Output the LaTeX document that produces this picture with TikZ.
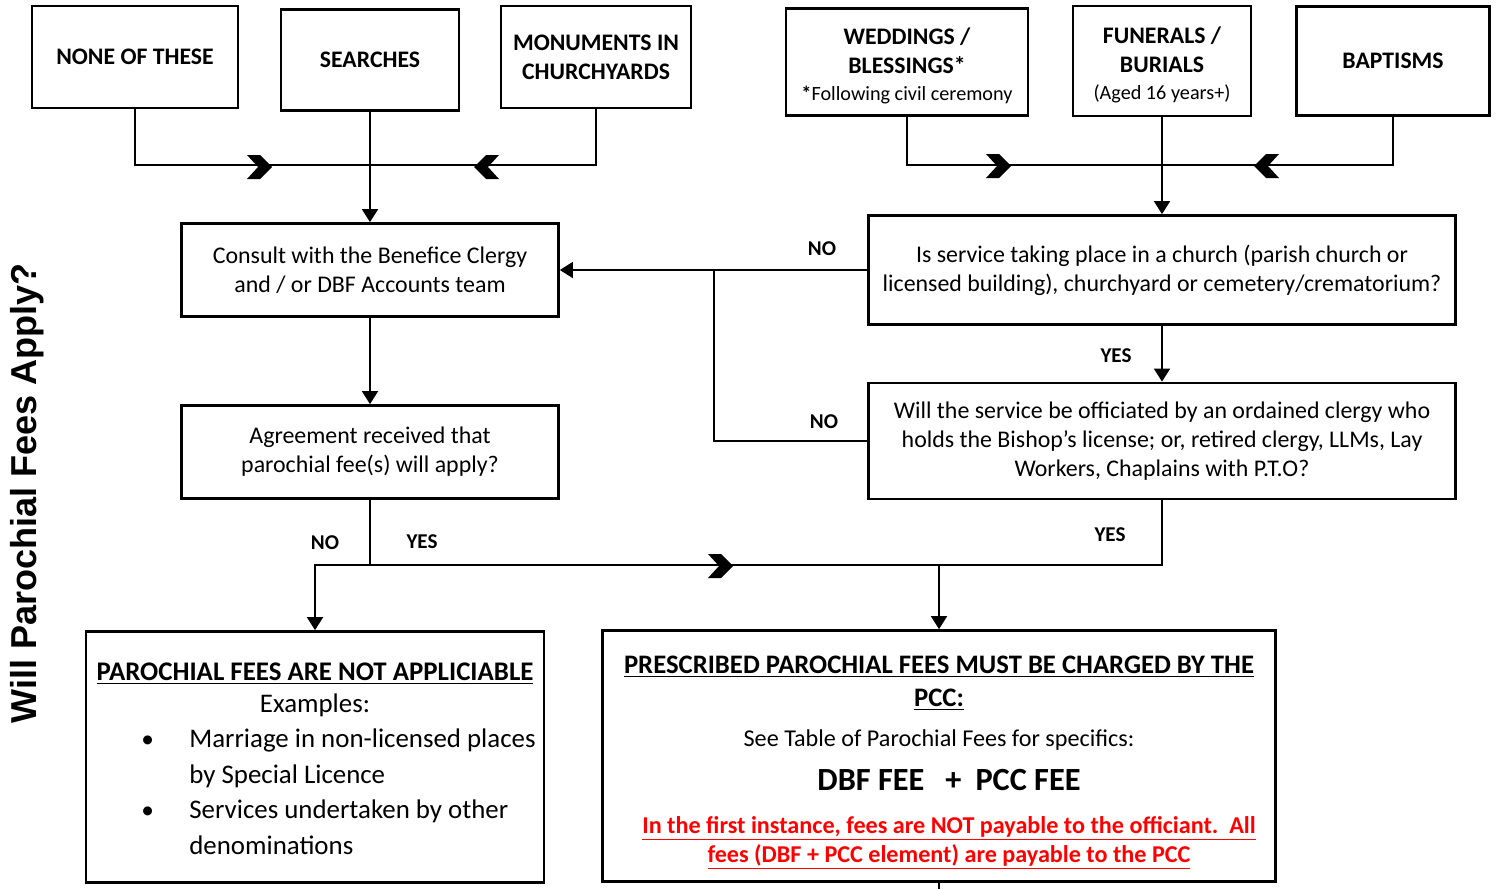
\documentclass[tikz,border=0pt]{standalone}
\usepackage{fontspec}
\setmainfont{Carlito}
\newfontfamily\titlefont{Liberation Sans}
\usetikzlibrary{arrows.meta}

\tikzset{
  box/.style={draw,inner sep=2pt,align=center,font=\fontsize{13.6}{16.4}\selectfont},
  topbox/.style={box,font=\fontsize{13.5}{16.4}\selectfont\bfseries},
  bigbox/.style={draw,inner sep=2pt,align=center,minimum height=5.02cm,font=\fontsize{15.2}{18.7}\selectfont},
  lbl/.style={font=\fontsize{12}{14}\selectfont\bfseries},
  arr/.style={-{Triangle[length=7.5pt,width=9pt]}},
  chevr/.pic={\fill (-12,-12) -- (1,-12) -- (13,0) -- (1,12) -- (-12,12) -- (-1,0) -- cycle;}
}

\begin{document}
\begin{tikzpicture}[x=0.02cm,y=-0.02cm,line width=1.5pt]
\useasboundingbox (0,0) rectangle (1503,889);
\node[rotate=90,font=\titlefont\bfseries\fontsize{20.5}{24}\selectfont] (title) at (27,493) {Will Parochial Fees Apply?};

\node[topbox,minimum width=4.12cm,minimum height=2.04cm] (none) at (135,57) {NONE OF THESE};
\node[topbox,minimum width=3.56cm,minimum height=2.02cm] (searches) at (370,60) {SEARCHES};
\node[topbox,minimum width=3.8cm,minimum height=2.04cm] (monu) at (596,57) {MONUMENTS IN\\CHURCHYARDS};
\node[topbox,minimum width=4.84cm,minimum height=2.14cm] (wed) at (907,62) {\rule{0pt}{14pt}WEDDINGS /\\BLESSINGS*\\[-1pt]{\fontsize{11.5}{14.5}\selectfont *\mdseries Following civil ceremony}};
\node[topbox,minimum width=3.56cm,minimum height=2.2cm] (funerals) at (1162,61) {\rule{0pt}{14pt}FUNERALS /\\BURIALS\\[-1pt]{\fontsize{11.5}{14.5}\selectfont\mdseries (Aged 16 years+)}};
\node[topbox,minimum width=3.86cm,minimum height=2.18cm] (bapt) at (1393,61) {BAPTISMS};

\node[box,minimum width=7.54cm,minimum height=1.86cm] (consult) at (370,270) {Consult with the Benefice Clergy\\and / or DBF Accounts team};
\node[box,minimum width=7.54cm,minimum height=1.86cm] (agree) at (370,452) {Agreement received that\\parochial fee(s) will apply?};
\node[box,minimum width=11.74cm,minimum height=2.18cm] (church) at (1162,270) {Is service taking place in a church (parish church or\\licensed building), churchyard or cemetery/crematorium?};
\node[box,minimum width=11.74cm,minimum height=2.32cm] (offic) at (1162,441) {Will the service be officiated by an ordained clergy who\\holds the Bishop’s license; or, retired clergy, LLMs, Lay\\Workers, Chaplains with P.T.O?};

\node[bigbox,minimum width=9.16cm,font=\fontsize{15.3}{20.2}\selectfont] (notapp) at (315,757) {\rule{0pt}{18pt}{\bfseries\underline{PAROCHIAL FEES ARE NOT APPLICIABLE}}\\[-2pt]Examples:\\\hspace*{0.94cm}\begin{tabular}[t]{@{}p{0.96cm}@{}l@{}}{\Large\textbullet}&Marriage in non-licensed places\\&by Special Licence\\{\Large\textbullet}&Services undertaken by other\\&denominations\end{tabular}};
\node[bigbox,minimum width=13.46cm] (presc) at (939,756) {\rule{0pt}{18pt}{\bfseries\underline{PRESCRIBED PAROCHIAL FEES MUST BE CHARGED BY THE}}\\{\bfseries\underline{PCC:}}\\[4pt]{\fontsize{13.75}{16}\selectfont See Table of Parochial Fees for specifics:}\\[6pt]\hspace*{0.4cm}{\fontsize{18.4}{22}\selectfont\bfseries DBF FEE\hspace{0.42cm}+\hspace{0.28cm}PCC FEE}\\[6pt]\hspace*{0.4cm}{\color{red}\fontsize{13.75}{16}\selectfont\bfseries\underline{In the first instance, fees are NOT payable to the officiant.\ \ All}}\\[-2.3pt]\hspace*{0.4cm}{\color{red}\fontsize{13.75}{16}\selectfont\bfseries\underline{fees (DBF + PCC element) are payable to the PCC}}};

\coordinate (jl) at (370,165);
\coordinate (jr) at (1162,165);
\coordinate (jno) at (714,270);
\coordinate (jyes) at (370,565);
\coordinate (jp) at (939,565);
\coordinate (offpage) at (939,889);

\draw (none.south) |- (jl);
\draw (monu.south) |- (jl);
\draw[arr] (searches) -- (consult);
\draw (wed.south) |- (jr);
\draw (bapt.south) |- (jr);
\draw[arr] (funerals) -- (church);
\draw[arr] (church.west) -- (consult.east);
\draw (offic.west) -| (jno);
\draw[arr] (church) -- (offic);
\draw[arr] (consult) -- (agree);
\draw[arr] (agree.south) -- (jyes) -| (notapp.north);
\draw (jyes) -| (offic.south);
\draw[arr] (jp) -- (presc);
\draw (presc.south) -- (offpage);

\pic at (259,167) {chevr};
\pic[xscale=-1] at (487,167) {chevr};
\pic at (998,166) {chevr};
\pic[xscale=-1] at (1267,166) {chevr};
\pic at (720,566) {chevr};

\node[lbl] (no1) at (822,249) {NO};
\node[lbl] (no2) at (824,422) {NO};
\node[lbl] (yes1) at (1116,356) {YES};
\node[lbl] (no3) at (325,543) {NO};
\node[lbl] (yes2) at (422,542) {YES};
\node[lbl] (yes3) at (1110,535) {YES};
\end{tikzpicture}
\end{document}
